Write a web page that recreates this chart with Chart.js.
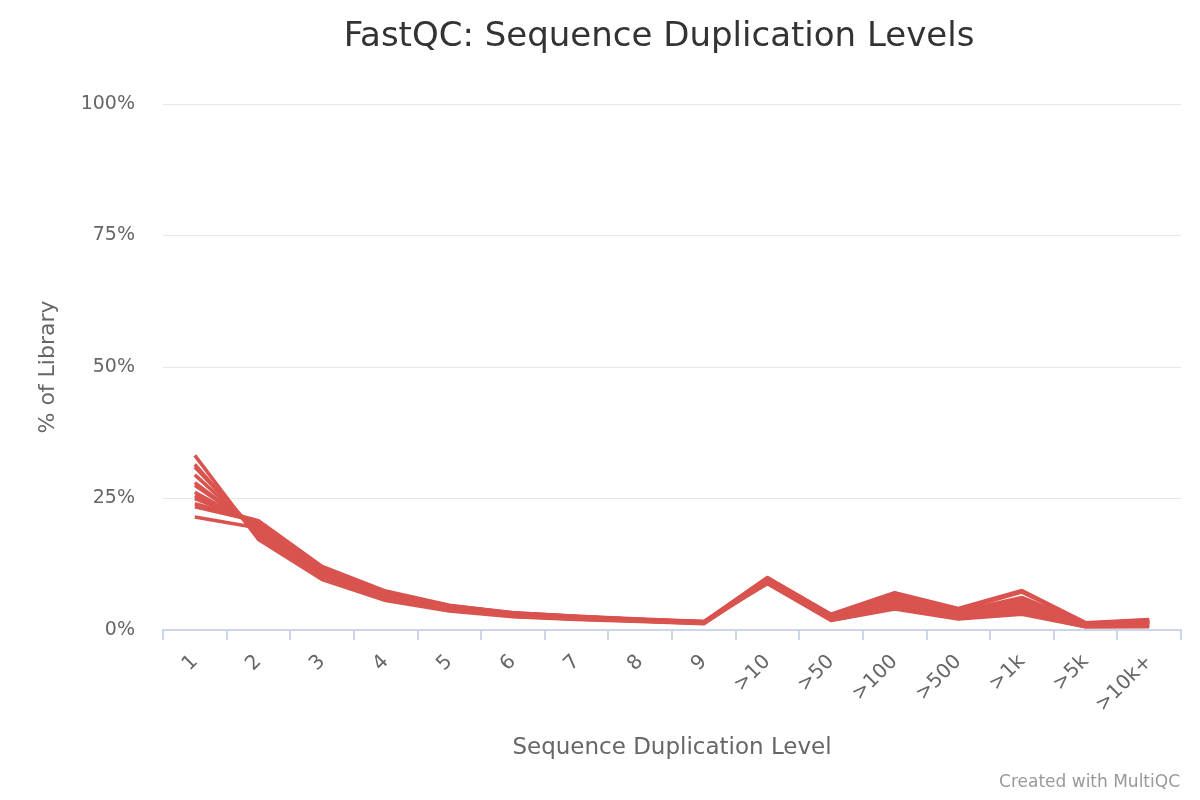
<!DOCTYPE html>
<html lang="en">

<head>
    <meta charset="UTF-8">
    <meta name="viewport" content="width=device-width, initial-scale=1.0">
    <title>FastQC: Sequence Duplication Levels</title>
    <style>
        body { margin: 0; background: #fff; }
        #wrap { width: 1200px; height: 800px; position: relative; }
    </style>
</head>

<body>
    <div id="wrap"><canvas id="grafica"></canvas></div>

    <script src="https://cdn.jsdelivr.net/npm/chart.js@4.4.0/dist/chart.umd.min.js"></script>
    <script>
        // niveles de duplicacion (eje x)
        const categories = ['1', '2', '3', '4', '5', '6', '7', '8', '9', '>10', '>50', '>100', '>500', '>1k', '>5k', '>10k+'];
        const yTicks = [0, 25, 50, 75, 100];

        // % of library por muestra
        const s01 = [33.2, 17.2, 9.6, 5.6, 3.6, 2.5, 2.0, 1.6, 1.2, 9.2, 1.9, 4.2, 2.3, 3.2, 0.6, 0.7];
        const s02 = [31.5, 17.8, 10.0, 5.9, 3.8, 2.6, 2.1, 1.7, 1.3, 9.5, 2.2, 4.8, 2.6, 3.8, 0.8, 1.0];
        const s03 = [31.0, 18.3, 10.4, 6.2, 3.9, 2.7, 2.1, 1.7, 1.3, 9.0, 2.0, 4.5, 2.4, 4.5, 0.9, 1.2];
        const s04 = [29.5, 18.6, 10.6, 6.3, 4.0, 2.8, 2.2, 1.8, 1.4, 9.8, 2.6, 5.5, 2.9, 5.0, 1.0, 1.4];
        const s05 = [28.0, 19.0, 10.9, 6.5, 4.1, 2.9, 2.3, 1.8, 1.4, 9.3, 2.4, 6.0, 3.2, 5.4, 1.1, 1.5];
        const s06 = [27.5, 19.3, 11.1, 6.7, 4.2, 2.9, 2.3, 1.9, 1.4, 9.6, 2.8, 6.5, 3.5, 6.2, 1.2, 1.7];
        const s07 = [26.2, 19.6, 11.3, 6.8, 4.3, 3.0, 2.4, 1.9, 1.5, 9.1, 2.3, 5.0, 2.8, 4.0, 0.9, 1.3];
        const s08 = [25.5, 20.0, 11.6, 7.0, 4.4, 3.1, 2.5, 2.0, 1.5, 9.9, 2.9, 7.0, 3.8, 7.2, 1.3, 1.9];
        const s09 = [25.0, 20.3, 11.8, 7.2, 4.5, 3.2, 2.5, 2.0, 1.5, 9.4, 2.5, 5.8, 3.0, 5.8, 1.0, 1.6];
        const s10 = [24.0, 20.8, 12.1, 7.4, 4.7, 3.3, 2.6, 2.1, 1.6, 10.0, 3.0, 7.1, 4.1, 7.5, 1.4, 2.0];
        const s11 = [23.4, 20.6, 11.9, 7.3, 4.6, 3.3, 2.6, 2.0, 1.6, 8.8, 1.8, 4.0, 2.1, 3.0, 0.6, 0.6];
        const s12 = [21.5, 19.4, 11.4, 7.0, 4.5, 3.2, 2.5, 2.0, 1.5, 9.7, 2.7, 6.2, 3.4, 4.3, 1.1, 1.8];
        const samples = [s01, s02, s03, s04, s05, s06, s07, s08, s09, s10, s11, s12];

        const FONT = '"DejaVu Sans", "Liberation Sans", sans-serif';
        const red = '#d9534f';

        // titulo y credito dibujados como texto en el canvas
        const textos = {
            id: 'textos',
            afterDraw(chart) {
                const ctx = chart.ctx;
                const area = chart.chartArea;
                ctx.save();
                ctx.textBaseline = 'middle';
                ctx.textAlign = 'center';
                ctx.fillStyle = '#333333';
                ctx.font = '34px ' + FONT;
                ctx.fillText('FastQC: Sequence Duplication Levels', (area.left + area.right) / 2 - 13, 37);
                ctx.textAlign = 'right';
                ctx.fillStyle = '#999999';
                ctx.font = '17px ' + FONT;
                ctx.fillText('Created with MultiQC', chart.width - 20, 783);
                ctx.restore();
            }
        };

        const ctx = document.getElementById('grafica').getContext('2d');
        const grafica = new Chart(ctx, {
            type: 'line',
            data: {
                labels: categories,
                datasets: samples.map((vals, i) => ({
                    label: 'Sample ' + (i + 1),
                    data: vals,
                    borderColor: red,
                    backgroundColor: red,
                    borderWidth: 3.5,
                    borderJoinStyle: 'round',
                    pointRadius: 0,
                    tension: 0,
                    fill: false
                }))
            },
            options: {
                responsive: true,
                maintainAspectRatio: false,
                animation: false,
                layout: { padding: { top: 104, right: 19, bottom: 0, left: 0 } },
                plugins: {
                    legend: { display: false },
                    title: { display: false },
                    tooltip: { enabled: false }
                },
                scales: {
                    x: {
                        offset: true,
                        afterFit: (scale) => { scale.height = 170; },
                        border: { color: '#ccd6eb', width: 2 },
                        grid: {
                            offset: true,
                            drawOnChartArea: false,
                            drawTicks: true,
                            tickLength: 10,
                            color: '#ccd6eb',
                            lineWidth: 2
                        },
                        ticks: {
                            autoSkip: false,
                            maxRotation: 45,
                            minRotation: 45,
                            padding: 10,
                            color: '#666666',
                            font: { family: FONT, size: 20 }
                        },
                        title: {
                            display: true,
                            text: 'Sequence Duplication Level',
                            color: '#666666',
                            font: { family: FONT, size: 23 },
                            padding: { top: 0, bottom: 38 }
                        }
                    },
                    y: {
                        min: 0,
                        max: 100,
                        afterFit: (scale) => { scale.width = 163; },
                        afterBuildTicks: (scale) => { scale.ticks = yTicks.map(v => ({ value: v })); },
                        border: { display: false },
                        grid: { color: '#e6e6e6', lineWidth: 1, drawTicks: false },
                        ticks: {
                            padding: 28,
                            color: '#666666',
                            font: { family: FONT, size: 19 },
                            callback: (v) => v + '%'
                        },
                        title: {
                            display: true,
                            text: '% of Library',
                            color: '#666666',
                            font: { family: FONT, size: 22 },
                            padding: { top: 35, bottom: 0 }
                        }
                    }
                }
            },
            plugins: [textos]
        });
    </script>
</body>

</html>
